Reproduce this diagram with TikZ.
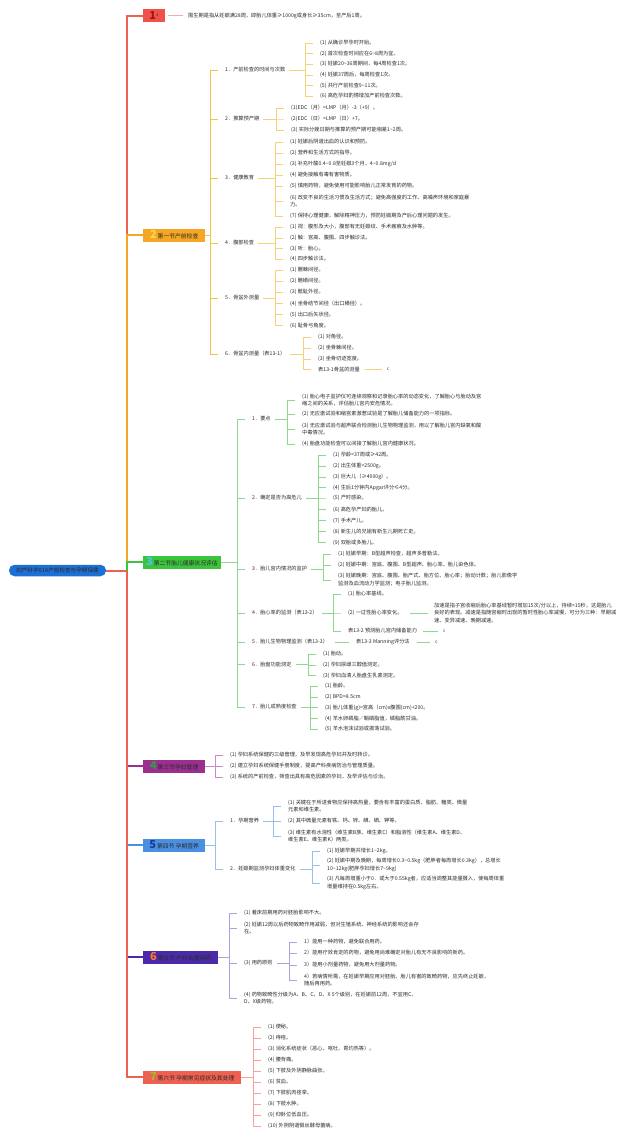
\documentclass[tikz,border=0pt]{standalone}
\usepackage{fontspec}
\setmainfont{Noto Sans CJK SC}

\definecolor{ink}{HTML}{2A2A2A}
\definecolor{rootblue}{HTML}{1C6FD4}
\definecolor{redA}{HTML}{EE6150}
\definecolor{redB}{HTML}{F0524A}
\definecolor{darkred}{HTML}{9E1414}
\definecolor{pinkA}{HTML}{F4A8B2}
\definecolor{orangeA}{HTML}{F5A623}
\definecolor{goldA}{HTML}{F2C24A}
\definecolor{goldB}{HTML}{F5D277}
\definecolor{yelnum}{HTML}{FFD84D}
\definecolor{greenA}{HTML}{3DC43D}
\definecolor{greenB}{HTML}{8ED88E}
\definecolor{skynum}{HTML}{4FC3F7}
\definecolor{purpleA}{HTML}{9B2F8F}
\definecolor{purpleB}{HTML}{C98CC0}
\definecolor{greennum}{HTML}{2E9E44}
\definecolor{blueA}{HTML}{4A90E2}
\definecolor{blueB}{HTML}{97BFEC}
\definecolor{navynum}{HTML}{1A3A9A}
\definecolor{indigoA}{HTML}{4A2AA8}
\definecolor{indigoB}{HTML}{ADA2DA}
\definecolor{orangenum}{HTML}{FF7A30}
\definecolor{olivenum}{HTML}{9CBF2A}
\definecolor{redC}{HTML}{F4A39E}

\newcommand\wave{\textasciitilde}
\newcommand\secnum[2]{{\fontsize{11}{11}\selectfont\bfseries\color{#1}#2}}
% style, parent anchor, child prefix, count
\newcommand\kids[4]{\foreach \i in {1,...,#4} \draw[#1] ([xshift=-6pt]#3-\i.west) -- ++(-8pt,0) |- #2;}

\tikzset{
  item/.style={anchor=west, inner sep=1pt, align=left, text=ink, font=\fontsize{5.2}{7.6}\selectfont},
  secbox/.style={anchor=west, minimum height=13pt, inner xsep=3pt, inner ysep=1pt, text=ink, font=\fontsize{5.8}{6}\selectfont},
  rootbox/.style={fill=rootblue, rounded corners=5.5pt, minimum width=97pt, minimum height=11.5pt, inner sep=1pt, text=ink, font=\fontsize{5.6}{6}\selectfont},
  trunk/.style={line width=2pt},
  twig/.style={line width=0.8pt},
  leaf/.style={line width=0.6pt},
  clip icon/.style={item, font=\fontsize{4.5}{5}\selectfont}
}

\begin{document}
\begin{tikzpicture}[x=1pt,y=-1pt]
  \useasboundingbox (0,0) rectangle (640,1141);

  % root and the seven sections
  \node[rootbox] (root) at (57.5,570.5) {妇产科学01A产前检查与孕期保健};
  \coordinate (hub) at (127,570.5);
  \node[secbox, fill=redB, minimum width=22pt] (s1) at (143,15.5) {\secnum{darkred}{1}\textsuperscript{1}};
  \node[secbox, fill=orangeA, minimum width=62pt] (s2) at (143,235) {\secnum{yelnum}{2}\,第一节产前检查};
  \node[secbox, fill=greenA, minimum width=72pt] (s3) at (143,562) {\secnum{skynum}{3}\,第二节胎儿健康状况评估};
  \node[secbox, fill=purpleA, minimum width=62pt] (s4) at (143,766) {\secnum{greennum}{4}\,第三节孕妇管理};
  \node[secbox, fill=blueA, minimum width=62pt] (s5) at (143,845) {\secnum{navynum}{5}\,第四节 孕期营养};
  \node[secbox, fill=indigoA, minimum width=75pt] (s6) at (143,957) {\secnum{orangenum}{6}\,第五节 产科合理用药};
  \node[secbox, fill=redA, minimum width=98pt] (s7) at (143,1077) {\secnum{olivenum}{7}\,第六节 孕期常见症状及其处理};

  \draw[trunk, redA] (root.east) -- (hub);
  \draw[trunk, redA] (hub) |- (s1.west);
  \draw[trunk, orangeA] (hub) |- (s2.west);
  \draw[trunk, greenA] (hub) |- (s3.west);
  \draw[trunk, purpleA] (hub) |- (s4.west);
  \draw[trunk, blueA] (hub) |- (s5.west);
  \draw[trunk, indigoA] (hub) |- (s6.west);
  \draw[trunk, redA] (hub) |- (s7.west);

  % section 1
  \node[item] (s1-1) at (187,15.5) {围生期是指从妊娠满28周，即胎儿体重≥1000g或身长≥35cm，至产后1周。};
  \draw[twig, pinkA] ([xshift=3pt]s1.east) -- ([xshift=-4pt]s1-1.west);

  % section 2
  \foreach \y/\txt [count=\i] in {70/{1．产前检查的时间与次数}, 119/{2．推算预产期}, 178/{3．健康教育},
      243/{4．腹部检查}, 298/{5．骨盆外测量}, 354/{6．骨盆内测量（表13-1）}}
    \node[item] (s2-\i) at (224,\y) {\txt};
  \kids{twig, goldA}{(s2.east)}{s2}{6}

  \foreach \y/\txt [count=\i] in {43/{(1) 从确诊早孕时开始。}, 53.5/{(2) 首次检查时间应在6\wave 8周为宜。},
      64/{(3) 妊娠20\wave 36周期间，每4周检查1次。}, 75/{(4) 妊娠37周后，每周检查1次。},
      85.5/{(5) 共行产前检查9\wave 11次。}, 96/{(6) 高危孕妇酌情增加产前检查次数。}}
    \node[item] (s2-1-\i) at (319,\y) {\txt};
  \kids{leaf, goldB}{([xshift=3pt]s2-1.east)}{s2-1}{6}

  \foreach \y/\txt [count=\i] in {108/{(1)EDC（月）=LMP（月）-3（+9）。}, 119/{(2)EDC（日）=LMP（日）+7。},
      130/{(3) 实际分娩日期与推算的预产期可能相差1\wave 2周。}}
    \node[item] (s2-2-\i) at (290,\y) {\txt};
  \kids{leaf, goldB}{([xshift=3pt]s2-2.east)}{s2-2}{3}

  \foreach \y/\txt [count=\i] in {142/{(1) 妊娠后阴道出血的认识和预防。}, 153/{(2) 营养和生活方式的指导。},
      164/{(3) 补充叶酸0.4\wave 0.8至妊娠3个月，4\wave 0.8mg/d}, 175/{(4) 避免接触有毒有害物质。},
      186/{(5) 慎用药物，避免使用可能影响胎儿正常发育的药物。},
      201/{(6) 改变不良的生活习惯及生活方式；避免高强度的工作、高噪声环境和家庭暴\\力。},
      216/{(7) 保持心理健康，解除精神压力，预防妊娠期及产后心理问题的发生。}}
    \node[item] (s2-3-\i) at (289,\y) {\txt};
  \kids{leaf, goldB}{([xshift=3pt]s2-3.east)}{s2-3}{7}

  \foreach \y/\txt [count=\i] in {227/{(1) 视：腹形及大小，腹部有无妊娠纹、手术瘢痕及水肿等。},
      238/{(2) 触：宫高、腹围、四步触诊法。}, 248.5/{(3) 听：胎心。}, 259/{(4) 四步触诊法。}}
    \node[item] (s2-4-\i) at (289,\y) {\txt};
  \kids{leaf, goldB}{([xshift=3pt]s2-4.east)}{s2-4}{4}

  \foreach \y/\txt [count=\i] in {270/{(1) 髂棘间径。}, 281/{(2) 髂嵴间径。}, 292/{(3) 骶耻外径。},
      303.5/{(4) 坐骨结节间径（出口横径）。}, 314.5/{(5) 出口后矢状径。}, 325.5/{(6) 耻骨弓角度。}}
    \node[item] (s2-5-\i) at (289,\y) {\txt};
  \kids{leaf, goldB}{([xshift=3pt]s2-5.east)}{s2-5}{6}

  \foreach \y/\txt [count=\i] in {337/{(1) 对角径。}, 348/{(2) 坐骨棘间径。}, 359/{(3) 坐骨切迹宽度。},
      369.5/{表13-1骨盆的测量}}
    \node[item] (s2-6-\i) at (317,\y) {\txt};
  \kids{leaf, goldB}{([xshift=3pt]s2-6.east)}{s2-6}{4}
  \node[clip icon] (s2-6-4c) at (386,369.5) {c};
  \draw[leaf, goldB] ([xshift=4pt]s2-6-4.east) -- ([xshift=-4pt]s2-6-4c.west);

  % section 3
  \foreach \y/\txt [count=\i] in {419/{1．要点}, 498/{2．确定是否为高危儿}, 569/{3．胎儿宫内情况的监护},
      613/{4．胎心率的监测（表13-2）}, 642/{5．胎儿生物物理监测（表13-3）}, 664/{6．胎盘功能测定},
      707/{7．胎儿成熟度检查}}
    \node[item] (s3-\i) at (251,\y) {\txt};
  \kids{twig, greenB}{(s3.east)}{s3}{7}

  \foreach \y/\txt [count=\i] in {
      400/{(1) 胎心电子监护仪可连续观察和记录胎心率的动态变化，了解胎心与胎动及宫\\缩之间的关系，评估胎儿宫内安危情况。},
      414/{(2) 无应激试验和缩宫素激惹试验是了解胎儿储备能力的一项指标。},
      429/{(3) 无应激试验与超声联合检测胎儿生物物理监测，用以了解胎儿宫内缺氧和酸\\中毒情况。},
      444/{(4) 胎盘功能检查可以间接了解胎儿宫内健康状况。}}
    \node[item] (s3-1-\i) at (301,\y) {\txt};
  \kids{leaf, greenB}{([xshift=3pt]s3-1.east)}{s3-1}{4}

  \foreach \y/\txt [count=\i] in {455/{(1) 孕龄<37周或≥42周。}, 466/{(2) 出生体重<2500g。},
      477/{(3) 巨大儿（≥4000g）。}, 487.5/{(4) 生后1分钟内Apgar评分≤4分。}, 498/{(5) 产时感染。},
      509.5/{(6) 高危孕产妇的胎儿。}, 520.5/{(7) 手术产儿。}, 531.5/{(8) 新生儿的兄姐有新生儿期死亡史。},
      542.5/{(9) 双胎或多胎儿。}}
    \node[item] (s3-2-\i) at (332,\y) {\txt};
  \kids{leaf, greenB}{([xshift=3pt]s3-2.east)}{s3-2}{9}

  \foreach \y/\txt [count=\i] in {554/{(1) 妊娠早期：B型超声检查，超声多普勒法。},
      565/{(2) 妊娠中期：宫底、腹围、B型超声、胎心率、胎儿染色体。},
      580/{(3) 妊娠晚期：宫底、腹围、胎产式、胎方位、胎心率；胎动计数；胎儿影像学\\监测及血流动力学监测；电子胎儿监测。}}
    \node[item] (s3-3-\i) at (337,\y) {\txt};
  \kids{leaf, greenB}{([xshift=3pt]s3-3.east)}{s3-3}{3}

  \foreach \y/\txt [count=\i] in {594/{(1) 胎心率基线。}, 613/{(2) 一过性胎心率变化。},
      631/{表13-2 预测胎儿宫内储备能力}}
    \node[item] (s3-4-\i) at (347,\y) {\txt};
  \kids{leaf, greenB}{([xshift=3pt]s3-4.east)}{s3-4}{3}
  \node[item] (s3-4-2x) at (433,613) {加速是指子宫收缩后胎心率基线暂时增加15次/分以上，持续>15秒，这是胎儿\\良好的表现。减速是指随宫缩时出现的暂时性胎心率减慢，可分为三种：早期减\\速、变异减速、晚期减速。};
  \draw[leaf, greenB] ([xshift=6pt]s3-4-2.east) -- ([xshift=-5pt]s3-4-2x.west);
  \node[clip icon] (s3-4-3c) at (442,631) {c};
  \draw[leaf, greenB] ([xshift=5pt]s3-4-3.east) -- ([xshift=-4pt]s3-4-3c.west);

  \node[item] (s3-5-1) at (355,642) {表13-3 Manning评分法};
  \node[clip icon] (s3-5-1c) at (434,642) {c};
  \draw[leaf, greenB] ([xshift=6pt]s3-5.east) -- ([xshift=-6pt]s3-5-1.west);
  \draw[leaf, greenB] ([xshift=6pt]s3-5-1.east) -- ([xshift=-4pt]s3-5-1c.west);

  \foreach \y/\txt [count=\i] in {654/{(1) 胎动。}, 665/{(2) 孕妇尿雌三醇值测定。},
      675.5/{(3) 孕妇血清人胎盘生乳素测定。}}
    \node[item] (s3-6-\i) at (322,\y) {\txt};
  \kids{leaf, greenB}{([xshift=3pt]s3-6.east)}{s3-6}{3}

  \foreach \y/\txt [count=\i] in {686/{(1) 胎龄。}, 697/{(2) BPD>8.5cm}, 707.5/{(3) 胎儿体重(g)=宫高（cm)x腹围(cm)+200。},
      718.5/{(4) 羊水卵磷脂／鞘磷脂值，磷脂酰甘油。}, 729/{(5) 羊水泡沫试验或振荡试验。}}
    \node[item] (s3-7-\i) at (324,\y) {\txt};
  \kids{leaf, greenB}{([xshift=3pt]s3-7.east)}{s3-7}{5}

  % section 4
  \foreach \y/\txt [count=\i] in {755/{(1) 孕妇系统保健的三级管理，及早发现高危孕妇并及时转诊。},
      766/{(2) 建立孕妇系统保健手册制度，提高产科疾病防治与管理质量。},
      777/{(3) 系统的产前检查，筛查出具有高危因素的孕妇，及早评估与诊治。}}
    \node[item] (s4-\i) at (229,\y) {\txt};
  \kids{twig, purpleB}{(s4.east)}{s4}{3}

  % section 5
  \node[item] (s5-1) at (229,821) {1．孕期营养};
  \node[item] (s5-2) at (229,869) {2．妊娠期监测孕妇体重变化};
  \kids{twig, blueB}{(s5.east)}{s5}{2}

  \foreach \y/\txt [count=\i] in {
      806/{(1) 关键在于所进食物应保持高热量，要含有丰富的蛋白质、脂肪、糖类、微量\\元素和维生素。},
      821/{(2) 其中微量元素有铁、钙、锌、碘、硒、钾等。},
      836/{(3) 维生素有水溶性（维生素B族、维生素C）和脂溶性（维生素A、维生素D、\\维生素E、维生素K）两类。}}
    \node[item] (s5-1-\i) at (287,\y) {\txt};
  \kids{leaf, blueB}{([xshift=3pt]s5-1.east)}{s5-1}{3}

  \foreach \y/\txt [count=\i] in {851/{(1) 妊娠早期共增长1\wave 2kg。},
      865/{(2) 妊娠中期及晚期，每周增长0.3\wave 0.5kg（肥胖者每周增长0.3kg），总增长\\10\wave 12kg(肥胖孕妇增长7\wave 9kg)},
      883/{(3) 凡每周增重小于0．或大于0.55kg者，应适当调整其能量摄入，使每周体重\\增量维持在0.5kg左右。}}
    \node[item] (s5-2-\i) at (326,\y) {\txt};
  \kids{leaf, blueB}{([xshift=3pt]s5-2.east)}{s5-2}{3}

  % section 6
  \foreach \y/\txt [count=\i] in {913/{(1) 着床前期用药对胚胎影响不大。},
      928/{(2) 妊娠12周以后药物致畸作用减弱，但对生殖系统、神经系统的影响还会存\\在。},
      963/{(3) 用药原则},
      998/{(4) 药物致畸性分级为A、B、C、D、X 5个级别，在妊娠前12周，不宜用C、\\D、X级药物。}}
    \node[item] (s6-\i) at (243,\y) {\txt};
  \kids{twig, indigoB}{(s6.east)}{s6}{4}

  \foreach \y/\txt [count=\i] in {942/{1）能用一种药物，避免联合用药。},
      953/{2）能用疗效肯定的药物，避免用尚难确定对胎儿有无不良影响的新药。},
      965/{3）能用小剂量药物，避免用大剂量药物。},
      980/{4）若病情所需，在妊娠早期应用对胚胎、胎儿有害的致畸药物，应先终止妊娠，\\随后再用药。}}
    \node[item] (s6-3-\i) at (303,\y) {\txt};
  \kids{leaf, indigoB}{([xshift=3pt]s6-3.east)}{s6-3}{4}

  % section 7
  \foreach \txt [count=\i] in {(1) 便秘。, (2) 痔疮。, (3) 消化系统症状（恶心、呕吐、胃灼热等）。, (4) 腰背痛。,
      (5) 下肢及外阴静脉曲张。, (6) 贫血。, (7) 下肢肌肉痉挛。, (8) 下肢水肿。, (9) 仰卧位低血压。,
      (10) 外阴阴道假丝酵母菌病。}
    \node[item] (s7-\i) at (267,1027+11*\i-11) {\txt};
  \kids{twig, redC}{(s7.east)}{s7}{10}
\end{tikzpicture}
\end{document}
